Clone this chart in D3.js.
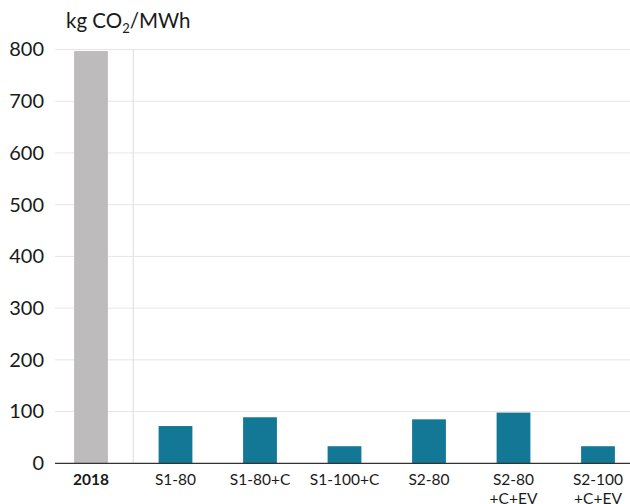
<!DOCTYPE html>
<html>
<head>
<meta charset="utf-8">
<script src="https://cdn.jsdelivr.net/npm/d3@7"></script>
<style>
  html, body { margin: 0; padding: 0; background: #fff; }
  svg { display: block; font-family: Lato, "Open Sans", sans-serif; }
</style>
</head>
<body>
<svg id="chart" width="630" height="504"></svg>
<script>
// Emission intensity of electricity, by scenario
const categories = ["2018", "S1-80", "S1-80+C", "S1-100+C", "S2-80", "S2-80\n+C+EV", "S2-100\n+C+EV"];
const values = [797, 72, 89, 33, 85, 98, 33];
const yTicks = [0, 100, 200, 300, 400, 500, 600, 700, 800];

const svg = d3.select("#chart");
const gridLeft = 55, gridRight = 630;
const yTop = 49.5, yBottom = 463.3;
const FONT = "Lato, sans-serif";

const x = d3.scaleBand()
  .domain(categories)
  .range([48.75, 640.25])
  .paddingInner(0.6)
  .paddingOuter(0.3);

const y = d3.scaleLinear().domain([0, 800]).range([yBottom, yTop]);

// Horizontal gridlines
svg.append("g")
  .selectAll("line")
  .data(yTicks.filter(d => d > 0))
  .join("line")
  .attr("x1", gridLeft).attr("x2", gridRight)
  .attr("y1", d => y(d)).attr("y2", d => y(d))
  .attr("stroke", "#e6e6e6").attr("stroke-width", 1);

// Divider between the base year and the scenarios
const divX = (x("2018") + x.bandwidth() + x("S1-80")) / 2;
svg.append("line")
  .attr("x1", divX).attr("x2", divX)
  .attr("y1", y(800)).attr("y2", yBottom)
  .attr("stroke", "#dcdcdc").attr("stroke-width", 1);

// Y-axis labels
const yAxis = d3.axisLeft(y).tickValues(yTicks).tickSize(0).tickPadding(0);
const yg = svg.append("g").attr("transform", "translate(44,0)").call(yAxis);
yg.attr("font-family", FONT);
yg.select(".domain").remove();
yg.selectAll("text")
  .attr("font-size", 20)
  .attr("fill", "#1a1a1a")
  .attr("font-family", FONT);

// Unit label
const unit = svg.append("text")
  .attr("x", 66).attr("y", 28)
  .attr("font-family", FONT)
  .attr("font-size", 20.5).attr("fill", "#1a1a1a");
unit.append("tspan").text("kg CO");
unit.append("tspan").attr("font-size", 13).attr("dy", 5).text("2");
unit.append("tspan").attr("dy", -5).text("/MWh");

// Bars
svg.append("g")
  .selectAll("rect")
  .data(categories.map((c, i) => ({ c, v: values[i] })))
  .join("rect")
  .attr("x", d => x(d.c))
  .attr("width", x.bandwidth())
  .attr("y", d => y(d.v))
  .attr("height", d => y(0) - y(d.v))
  .attr("fill", d => d.c === "2018" ? "#bdbbbb" : "#127896");

// Baseline
svg.append("line")
  .attr("x1", gridLeft).attr("x2", gridRight)
  .attr("y1", yBottom).attr("y2", yBottom)
  .attr("stroke", "#333").attr("stroke-width", 1.2);

// Category labels
const xAxis = d3.axisBottom(x).tickSize(0).tickFormat("");
const xg = svg.append("g").attr("transform", `translate(0,${yBottom})`).call(xAxis);
xg.attr("font-family", FONT);
xg.select(".domain").remove();
xg.selectAll(".tick").each(function(d) {
  const t = d3.select(this).append("text")
    .attr("text-anchor", "middle")
    .attr("y", 22)
    .attr("font-family", FONT)
    .attr("font-size", 15.5)
    .attr("fill", "#1a1a1a")
    .attr("font-weight", d === "2018" ? "bold" : "normal");
  d.split("\n").forEach((line, i) => {
    t.append("tspan").attr("x", 0).attr("dy", i === 0 ? 0 : 19).text(line);
  });
});
</script>
</body>
</html>
